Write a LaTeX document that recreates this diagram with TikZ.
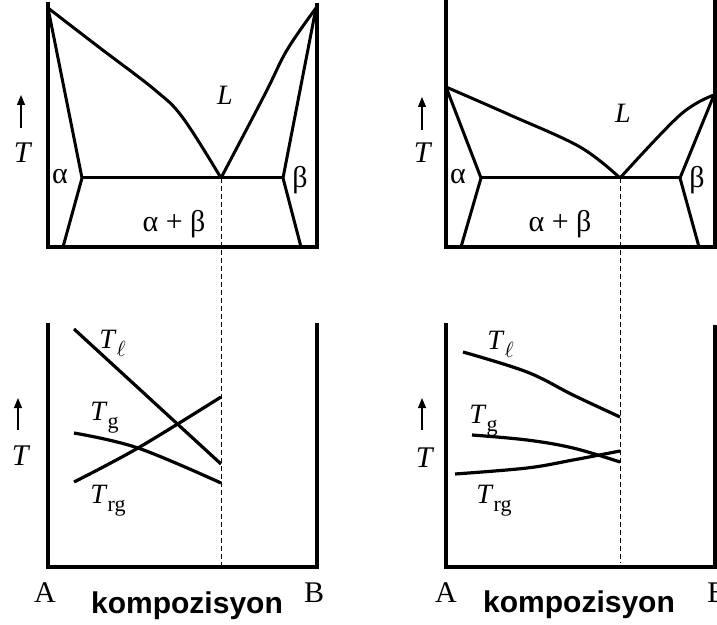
\documentclass[tikz,border=0pt]{standalone}
\usepackage{amsmath}
\usepackage{fontspec}
\setmainfont{Liberation Serif}
\setsansfont{Liberation Sans}
\usetikzlibrary{arrows.meta}

\newcommand{\tsub}[1]{\textit{T}\raisebox{-4pt}{\fontsize{11}{13}\selectfont #1}}

\begin{document}
\begin{tikzpicture}[
    x=0.5pt, y=-0.5pt,
    >={Triangle[length=5pt, width=4pt]},
    axisline/.style={line width=2pt, line join=miter},
    curveline/.style={line width=1.5pt, line join=round},
    lowcurve/.style={line width=1.6pt, line cap=butt},
    eutline/.style={line width=0.5pt, dash pattern=on 2.5pt off 1.5pt},
    tarrow/.style={->, line width=0.6pt},
    bigtext/.style={font=\fontsize{15}{17}\selectfont, inner sep=0pt},
    greektext/.style={font=\fontsize{15}{17}\selectfont, inner sep=0pt},
    smalltext/.style={font=\fontsize{14}{16}\selectfont, inner sep=0pt},
    comptext/.style={font=\sffamily\bfseries\fontsize{15}{18}\selectfont, inner sep=0pt}
]

    \useasboundingbox (0,0) rectangle (717,625);

    % left: phase diagram
    \coordinate (eutL) at (221,178);
    \coordinate (eutLb) at (221,567);
    \coordinate (meltAL) at (48,8);
    \coordinate (meltBL) at (316,8);
    \coordinate (solAL) at (82,178);
    \coordinate (solBL) at (283,178);

    \draw[axisline] (48,2) -- (48,247) -- (317,247) -- (317,3);

    \draw[curveline]
        plot[smooth, tension=0.6] coordinates {(48,8) (100,48) (155,90) (183,118) (221,178)};
    \draw[curveline]
        plot[smooth, tension=0.6] coordinates {(221,178) (265,94) (287,50) (316,8)};
    \draw[curveline] (meltAL) -- (solAL) -- (63,247);
    \draw[curveline] (meltBL) -- (solBL) -- (301,247);
    \draw[curveline] (solAL) -- (solBL);

    \draw[eutline] (eutL) -- (eutLb);

    \node[smalltext] (liqL) at (225,95) {\textit{L}};
    \node[greektext] (alphaL) at (60,177) {α};
    \node[greektext] (betaL) at (300,180) {β};
    \node[greektext, anchor=base] (mixL) at (174,232) {α + β};

    \draw[tarrow] (21,128) -- (21,95);
    \node[bigtext] (tempL) at (23,153) {\textit{T}};

    % left: glass temperatures
    \draw[axisline] (48,323) -- (48,567) -- (317,567) -- (317,323);

    \draw[lowcurve] (74,329) -- (221,464);
    \draw[lowcurve]
        plot[smooth, tension=0.6] coordinates {(74,433) (138,448) (221,483)};
    \draw[lowcurve]
        plot[smooth, tension=0.6] coordinates {(74,482) (138,448) (221,397)};

    \node[smalltext, anchor=base west] (tlL) at (99,349) {\tsub{$\ell$}};
    \node[smalltext, anchor=base west] (tgL) at (90,421) {\tsub{g}};
    \node[smalltext, anchor=base west] (trgL) at (90,503) {\tsub{rg}};

    \draw[tarrow] (18,430) -- (18,398);
    \node[bigtext] (tempLb) at (21,456) {\textit{T}};

    \node[bigtext, anchor=base] (compAL) at (45,602) {A};
    \node[bigtext, anchor=base] (compBL) at (314,602) {B};
    \node[comptext, anchor=base] (compL) at (187,613) {kompozisyon};

    % right: phase diagram
    \coordinate (eutR) at (620,178);
    \coordinate (eutRb) at (620,563);
    \coordinate (meltAR) at (446,87);
    \coordinate (meltBR) at (714,95);
    \coordinate (solAR) at (481,178);
    \coordinate (solBR) at (680,178);

    \draw[axisline] (446,0) -- (446,247) -- (715,247) -- (715,0);

    \draw[curveline]
        plot[smooth, tension=0.6] coordinates {(446,87) (510,115) (580,147) (620,178)};
    \draw[curveline]
        plot[smooth, tension=0.6] coordinates {(620,178) (680,115) (714,95)};
    \draw[curveline] (meltAR) -- (solAR) -- (461,247);
    \draw[curveline] (meltBR) -- (solBR) -- (699,247);
    \draw[curveline] (solAR) -- (solBR);

    \draw[eutline] (eutR) -- (eutRb);

    \node[smalltext] (liqR) at (623,113) {\textit{L}};
    \node[greektext] (alphaR) at (458,177) {α};
    \node[greektext] (betaR) at (697,180) {β};
    \node[greektext, anchor=base] (mixR) at (560,232) {α + β};

    \draw[tarrow] (422,130) -- (422,97);
    \node[bigtext] (tempR) at (423,153) {\textit{T}};

    % right: glass temperatures
    \draw[axisline] (446,323) -- (446,567) -- (715,567) -- (715,325);

    \draw[lowcurve]
        plot[smooth, tension=0.6] coordinates {(463,352) (527,372) (573,395) (620,417)};
    \draw[lowcurve]
        plot[smooth, tension=0.6] coordinates {(472,435) (527,440) (573,448) (620,462)};
    \draw[lowcurve]
        plot[smooth, tension=0.6] coordinates {(455,474) (527,468) (573,460) (620,451)};

    \node[smalltext, anchor=base west] (tlR) at (487,350) {\tsub{$\ell$}};
    \node[smalltext, anchor=base west] (tgR) at (469,423) {\tsub{g}};
    \node[smalltext, anchor=base west] (trgR) at (476,503) {\tsub{rg}};

    \draw[tarrow] (422,430) -- (422,398);
    \node[bigtext] (tempRb) at (425,458) {\textit{T}};

    \node[bigtext, anchor=base] (compAR) at (446,602) {A};
    \node[bigtext, anchor=base west] (compBR) at (707,602) {B};
    \node[comptext, anchor=base] (compR) at (579,612) {kompozisyon};

\end{tikzpicture}
\end{document}
